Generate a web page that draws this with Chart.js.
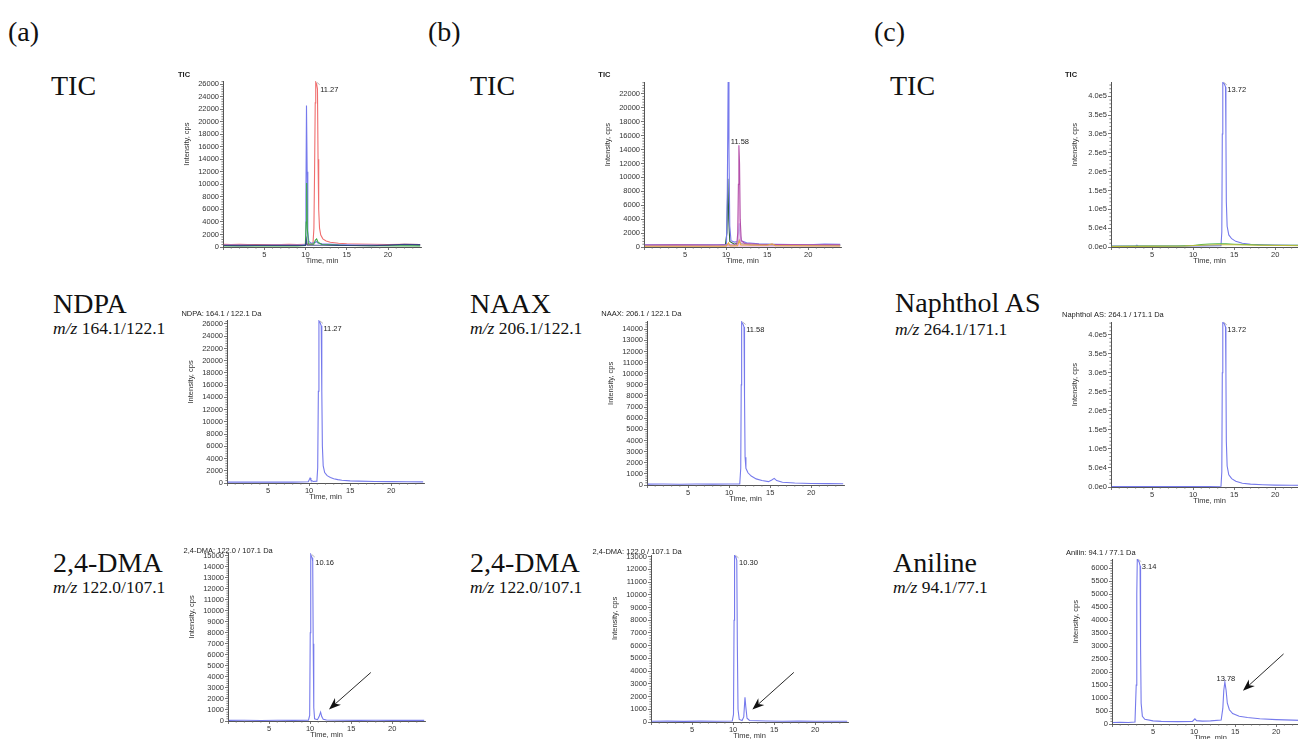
<!DOCTYPE html>
<html>
<head>
<meta charset="utf-8">
<script src="https://cdn.jsdelivr.net/npm/chart.js@4.4.0/dist/chart.umd.min.js"></script>
<style>
html,body{margin:0;padding:0;background:#fff;overflow:hidden;width:1298px;height:739px;}
.lbl{position:absolute;font-family:"Liberation Serif","Times New Roman",serif;color:#111;line-height:1;white-space:nowrap;}
.wrap{position:absolute;}
</style>
</head>
<body>
<script>
// ---------------- DATA ----------------
const xTicksLabels = [5, 10, 15, 20];

// (a) TIC traces
const ticA_red   = [[0.1,420],[1,380],[2,430],[3,400],[4,390],[5,410],[6,380],[7,400],[8,420],[9,400],[10,430],[10.9,450],[11.02,3000],[11.1,12000],[11.18,23000],[11.24,26300],[11.35,26000],[11.45,25200],[11.52,14000],[11.6,6000],[11.7,3000],[11.85,1900],[12.1,1300],[12.5,950],[13,750],[14,600],[15,520],[16,480],[18,430],[20,400],[22,420],[23.9,400]];
const ticA_blue  = [[0.1,300],[2,320],[4,290],[6,310],[8,300],[9.5,320],[9.95,400],[10.05,8000],[10.12,22600],[10.2,12000],[10.28,2500],[10.4,900],[10.7,600],[11.2,700],[11.3,900],[11.5,650],[12,500],[14,380],[16,330],[18,300],[20,280],[22,350],[23.9,330]];
const ticA_green = [[0.1,150],[3,170],[6,160],[9,170],[9.98,250],[10.08,4000],[10.14,10200],[10.22,3000],[10.35,500],[11,450],[11.2,1100],[11.35,1300],[11.55,700],[12,400],[15,250],[18,200],[23.9,180]];
const ticA_navy  = [[0.1,250],[2,220],[4,260],[6,240],[8,230],[10,260],[10.1,1200],[10.2,300],[12,280],[14,250],[16,230],[18,200],[20,300],[22,450],[23.9,380]];

// (b) TIC traces
const ticB_blue    = [[0.1,300],[3,320],[6,300],[9,330],[10.05,400],[10.15,8000],[10.25,23700],[10.35,14000],[10.45,3000],[10.6,900],[11,700],[11.4,800],[11.5,2000],[11.58,3400],[11.68,2000],[11.85,900],[12.5,600],[14,450],[16,400],[18,350],[20,330],[22,420],[23.9,380]];
const ticB_green   = [[0.1,200],[5,220],[9.9,250],[10.1,2000],[10.22,9800],[10.32,4000],[10.45,800],[11,400],[11.5,600],[11.6,1000],[11.8,500],[13,300],[18,250],[23.9,230]];
const ticB_magenta = [[0.1,280],[4,300],[8,290],[11.3,320],[11.42,2000],[11.5,9000],[11.56,14600],[11.64,12000],[11.72,4000],[11.85,900],[12.3,500],[14,380],[16,350],[20,330],[23.9,320]];
const ticB_orange  = [[0.1,100],[10,120],[10.3,600],[10.5,150],[11.4,200],[11.6,900],[11.8,300],[15,250],[15.6,450],[16,200],[23.9,150]];

// (c) TIC traces
const ticC_blue   = [[0.1,2500],[3,2800],[3.15,5000],[3.3,2800],[6,2600],[9,2800],[11,3000],[13.4,3500],[13.5,40000],[13.56,300000],[13.62,437000],[13.8,433000],[13.95,425000],[14.0,300000],[14.05,120000],[14.15,55000],[14.35,32000],[14.7,22000],[15.2,15000],[16,10000],[17,7500],[18.5,6000],[20,5200],[22,4800],[23.9,4500]];
const ticC_green  = [[0.1,2000],[4,2200],[8,2600],[10,4000],[11,6500],[12,8000],[13,8800],[14,8500],[15,7500],[16.5,6500],[18,5500],[20,4800],[23.9,4200]];
const ticC_yellow = [[0.1,1500],[5,1800],[9,2500],[11,4500],[13,6000],[15,6000],[18,4500],[23.9,3500]];

// XIC traces
const ndpa  = [[0.1,150],[1,170],[2,140],[3,160],[4,150],[5,170],[6,140],[7,160],[8,150],[9,170],[9.9,200],[10.05,600],[10.12,800],[10.22,450],[10.5,250],[10.95,300],[11.05,2500],[11.13,15000],[11.2,26500],[11.35,26200],[11.48,25700],[11.55,15000],[11.62,6000],[11.72,2800],[11.9,1700],[12.2,1200],[12.6,900],[13,700],[13.5,550],[14,450],[15,350],[16,300],[18,250],[20,220],[22,200],[23.9,190]];
const naax  = [[0.1,80],[2,90],[4,70],[6,90],[8,80],[10,90],[11.3,100],[11.42,1500],[11.48,9000],[11.53,14650],[11.7,14450],[11.82,14200],[11.88,8000],[11.95,2500],[12.05,1500],[12.3,1100],[12.7,800],[13.3,550],[14,400],[14.8,300],[15.2,450],[15.5,600],[15.8,400],[16.5,250],[18,180],[20,140],[22,120],[23.9,110]];
const naph  = [[0.1,1200],[2,1300],[4,1200],[6,1300],[8,1200],[10,1400],[12,1500],[13.4,1800],[13.5,40000],[13.56,300000],[13.62,432000],[13.8,429000],[13.95,420000],[14.0,300000],[14.05,120000],[14.15,55000],[14.35,32000],[14.7,22000],[15.2,15000],[16,10000],[17,7500],[18.5,6000],[20,5000],[22,4500],[23.9,4200]];
const dmaA  = [[0.1,60],[2,70],[4,50],[6,70],[8,60],[9.8,70],[9.95,500],[10.02,8000],[10.08,15100],[10.25,14800],[10.32,14500],[10.38,7000],[10.45,1200],[10.55,200],[10.9,120],[11.1,400],[11.28,800],[11.42,400],[11.6,150],[12,90],[14,70],[16,60],[18,70],[20,60],[22,55],[23.9,60]];
const dmaB  = [[0.1,60],[2,70],[4,50],[6,70],[8,60],[9.9,80],[10.05,600],[10.12,8000],[10.18,13100],[10.35,12950],[10.45,12700],[10.52,6000],[10.6,1000],[10.75,200],[11.1,120],[11.3,400],[11.45,1950],[11.55,1200],[11.7,300],[12,120],[14,80],[16,60],[18,70],[20,60],[22,55],[23.9,60]];
const anil  = [[0.1,60],[1,70],[2,60],[2.8,80],[2.95,1500],[3.02,5000],[3.08,6350],[3.3,6250],[3.42,6100],[3.48,3000],[3.55,800],[3.7,300],[4,180],[5,120],[6,100],[8,90],[9.8,100],[10.1,200],[10.3,130],[11,110],[12,120],[13.3,150],[13.5,600],[13.62,1300],[13.75,1620],[13.9,1300],[14.05,800],[14.3,550],[14.7,400],[15.5,300],[16.5,250],[18,200],[20,170],[22,150],[23.9,130]];

// Peak labels [time, intensity, text, placement]
const annR1a = [[11.24,26300,'11.27','right']];
const annR1b = [[11.56,14600,'11.58','above']];
const annR1c = [[13.62,437000,'13.72','right']];
const annR2a = [[11.2,26500,'11.27','right']];
const annR2b = [[11.53,14650,'11.58','right']];
const annR2c = [[13.62,432000,'13.72','right']];
const annR3a = [[10.08,15100,'10.16','right']];
const annR3b = [[10.18,13100,'10.30','right']];
const annR3c = [[3.08,6350,'3.14','right'],[13.75,1620,'13.78','above']];

// Arrows [tailTime, tailInt, tipTime, tipInt]
const arrowR3a = [17.4, 4400, 12.3, 1050];
const arrowR3b = [17.4, 3900, 12.35, 980];
const arrowR3c = [20.9, 2700, 15.95, 1280];

// Chart titles
const chartTitles = ['TIC','TIC','TIC','NDPA: 164.1 / 122.1 Da','NAAX: 206.1 / 122.1 Da','Naphthol AS: 264.1 / 171.1 Da','2,4-DMA: 122.0 / 107.1 Da','2,4-DMA: 122.0 / 107.1 Da','Anilin: 94.1 / 77.1 Da'];

// ---------------- LAYOUT ----------------
const BLUE = 'rgb(118,122,236)';
const panels = [
  {L:223,   T:81,    B:246.7, ppm:8.26, yMax:26500,  yStep:2000,  exp:false, tx:178,  ty:75,  bold:true,
   series:[{d:ticA_navy,c:'rgba(40,50,120,0.8)'},{d:ticA_green,c:'rgb(60,170,70)'},{d:ticA_blue,c:BLUE},{d:ticA_red,c:'rgb(240,110,110)'}], ann:annR1a},
  {L:643.7, T:81.7,  B:246.7, ppm:8.2,  yMax:23700,  yStep:2000,  exp:false, tx:598,  ty:75,  bold:true,
   series:[{d:ticB_orange,c:'rgb(230,170,70)'},{d:ticB_magenta,c:'rgb(180,80,170)',f:'rgba(235,180,225,0.7)'},{d:ticB_blue,c:BLUE},{d:ticB_green,c:'rgb(45,100,60)'}], ann:annR1b},
  {L:1111,  T:81.7,  B:246.7, ppm:8.2,  yMax:438000, yStep:50000, exp:true,  tx:1065, ty:75,  bold:true,
   series:[{d:ticC_yellow,c:'rgb(190,190,60)'},{d:ticC_green,c:'rgb(80,180,80)'},{d:ticC_blue,c:BLUE}], ann:annR1c},
  {L:226.6, T:320,   B:483.3, ppm:8.2,  yMax:26650,  yStep:2000,  exp:false, tx:181,  ty:314,
   series:[{d:ndpa,c:BLUE}], ann:annR2a},
  {L:646.7, T:320.7, B:484.3, ppm:8.2,  yMax:14740,  yStep:1000,  exp:false, tx:601,  ty:314,
   series:[{d:naax,c:BLUE}], ann:annR2b},
  {L:1111,  T:321.7, B:486.7, ppm:8.2,  yMax:433000, yStep:50000, exp:true,  tx:1062, ty:315,
   series:[{d:naph,c:BLUE}], ann:annR2c},
  {L:227.5, T:553.3, B:721.7, ppm:8.2,  yMax:15240,  yStep:1000,  exp:false, tx:183,  ty:551,
   series:[{d:dmaA,c:BLUE}], ann:annR3a, arrow:arrowR3a},
  {L:650.5, T:555,   B:721.7, ppm:8.2,  yMax:13130,  yStep:1000,  exp:false, tx:592,  ty:552,
   series:[{d:dmaB,c:BLUE}], ann:annR3b, arrow:arrowR3b},
  {L:1112,  T:559,   B:724,   ppm:8.2,  yMax:6360,   yStep:500,   exp:false, tx:1066, ty:553,
   series:[{d:anil,c:BLUE}], ann:annR3c, arrow:arrowR3c}
];
const X_MAX = 24;
const SANS = '"Liberation Sans", Arial, sans-serif';

// ---------------- LEFT LABELS ----------------
function label(html, x, baseline, size) {
  const d = document.createElement('div');
  d.className = 'lbl';
  d.style.left = x + 'px';
  d.style.top = (baseline - 0.8375 * size) + 'px';
  d.style.fontSize = size + 'px';
  d.innerHTML = html;
  document.body.appendChild(d);
}
label('(a)', 8, 41, 28); label('(b)', 428, 41, 28); label('(c)', 874, 41, 28);
label('TIC', 51, 95, 28); label('TIC', 470, 95, 28); label('TIC', 890, 95, 28);
label('NDPA', 53, 313, 28); label('<i>m/z</i> 164.1/122.1', 53, 335, 17.5);
label('NAAX', 470, 313, 28); label('<i>m/z</i> 206.1/122.1', 470, 335, 17.5);
label('Naphthol AS', 895, 312, 28); label('<i>m/z</i> 264.1/171.1', 895, 336, 17.5);
label('2,4-DMA', 53, 572, 28); label('<i>m/z</i> 122.0/107.1', 53, 594, 17.5);
label('2,4-DMA', 470, 572, 28); label('<i>m/z</i> 122.0/107.1', 470, 594, 17.5);
label('Aniline', 893, 572, 28); label('<i>m/z</i> 94.1/77.1', 893, 594, 17.5);

// ---------------- CHARTS ----------------
const PADL = 62, PADT = 18, PADR = 6, PADB = 24;

function drawDeco(chart, p, idx) {
  const ctx = chart.ctx, xs = chart.scales.x, ys = chart.scales.y, a = chart.chartArea;
  const ox = p.L - PADL, oy = p.T - PADT;
  ctx.save();
  // minor ticks
  ctx.strokeStyle = '#666'; ctx.lineWidth = 0.8;
  ctx.beginPath();
  const ms = p.yStep / 5;
  for (let i = 1; i * ms <= p.yMax; i++) {
    if (i % 5 === 0) continue;
    const y = ys.getPixelForValue(i * ms);
    ctx.moveTo(a.left, y); ctx.lineTo(a.left - 1.6, y);
  }
  for (let t = 1; t < X_MAX; t++) {
    if (t % 5 === 0) continue;
    const x = xs.getPixelForValue(t);
    ctx.moveTo(x, a.bottom); ctx.lineTo(x, a.bottom + 1.6);
  }
  ctx.stroke();
  // chart title
  ctx.fillStyle = '#222';
  ctx.textBaseline = 'middle'; ctx.textAlign = 'left';
  ctx.font = (p.bold ? 'bold ' : '') + '7.5px ' + SANS;
  ctx.fillText(chartTitles[idx], p.tx - ox, p.ty - oy);
  // axis titles
  ctx.font = '7.5px ' + SANS; ctx.fillStyle = '#333';
  ctx.textAlign = 'center';
  ctx.fillText('Time, min', (a.left + a.right) / 2, a.bottom + 14);
  ctx.save();
  ctx.translate(a.left - 36, a.top + 0.38 * (a.bottom - a.top));
  ctx.rotate(-Math.PI / 2);
  ctx.fillText('Intensity, cps', 0, 0);
  ctx.restore();
  // peak annotations
  ctx.font = '7.5px ' + SANS; ctx.fillStyle = '#222';
  p.ann.forEach(an => {
    const x = xs.getPixelForValue(an[0]), y = ys.getPixelForValue(an[1]);
    if (an[3] === 'right') {
      ctx.strokeStyle = '#999'; ctx.lineWidth = 0.7;
      ctx.beginPath(); ctx.moveTo(x + 1, y); ctx.lineTo(x + 4, y + 2.5); ctx.stroke();
      ctx.textAlign = 'left';
      ctx.fillText(an[2], x + 4.5, y + 8);
    } else {
      ctx.textAlign = 'center';
      ctx.fillText(an[2], x + 1, y - 3.5);
    }
  });
  // arrow
  if (p.arrow) {
    const x1 = xs.getPixelForValue(p.arrow[0]), y1 = ys.getPixelForValue(p.arrow[1]);
    const x2 = xs.getPixelForValue(p.arrow[2]), y2 = ys.getPixelForValue(p.arrow[3]);
    const ang = Math.atan2(y2 - y1, x2 - x1);
    const hl = 12, hw = 4.5;
    const bx = x2 - hl * Math.cos(ang), by = y2 - hl * Math.sin(ang);
    const nx = x2 - (hl * 0.7) * Math.cos(ang), ny = y2 - (hl * 0.7) * Math.sin(ang);
    ctx.strokeStyle = '#111'; ctx.lineWidth = 0.9;
    ctx.beginPath(); ctx.moveTo(x1, y1); ctx.lineTo(nx, ny); ctx.stroke();
    ctx.fillStyle = '#111';
    ctx.beginPath();
    ctx.moveTo(x2, y2);
    ctx.lineTo(bx + hw * Math.sin(ang), by - hw * Math.cos(ang));
    ctx.lineTo(nx, ny);
    ctx.lineTo(bx - hw * Math.sin(ang), by + hw * Math.cos(ang));
    ctx.closePath(); ctx.fill();
  }
  ctx.restore();
}

panels.forEach((p, idx) => {
  const R = p.L + X_MAX * p.ppm;
  const cw = Math.round((R - p.L) + PADL + PADR);
  const ch = Math.round((p.B - p.T) + PADT + PADB);
  const wrap = document.createElement('div');
  wrap.className = 'wrap';
  wrap.style.left = (p.L - PADL) + 'px';
  wrap.style.top = (p.T - PADT) + 'px';
  wrap.style.width = cw + 'px';
  wrap.style.height = ch + 'px';
  const c = document.createElement('canvas');
  c.width = cw; c.height = ch;
  c.style.width = cw + 'px'; c.style.height = ch + 'px';
  wrap.appendChild(c);
  document.body.appendChild(wrap);
  const fmt = p.exp ? (v => Number(v).toExponential(1).replace('e+', 'e')) : (v => String(v));
  const yTickVals = [];
  for (let v = 0; v <= p.yMax; v += p.yStep) yTickVals.push(v);
  new Chart(c, {
    type: 'line',
    data: {
      datasets: p.series.map(s => ({
        data: s.d, borderColor: s.c, borderWidth: 1.1, pointRadius: 0, tension: 0,
        fill: s.f ? 'origin' : false, backgroundColor: s.f || 'transparent'
      }))
    },
    options: {
      responsive: false, animation: false, devicePixelRatio: 1,
      layout: { padding: { left: 0, top: PADT, right: PADR, bottom: 0 } },
      plugins: { legend: { display: false }, tooltip: { enabled: false }, title: { display: false } },
      scales: {
        x: {
          type: 'linear', min: 0, max: X_MAX,
          afterFit: s => { s.height = PADB; },
          afterBuildTicks: s => { s.ticks = [{value:0}].concat(xTicksLabels.map(v => ({ value: v }))); },
          ticks: { autoSkip: false, maxRotation: 0,
                   callback: v => (v === 0 ? '' : String(v)),
                   font: { size: 7.5, family: SANS }, color: '#333', padding: 0 },
          grid: { drawOnChartArea: false, drawTicks: true, tickLength: 3, color: '#555', lineWidth: 0.8 },
          border: { display: true, color: '#555', width: 1 }
        },
        y: {
          type: 'linear', min: 0, max: p.yMax,
          afterFit: s => { s.width = PADL; },
          afterBuildTicks: s => { s.ticks = yTickVals.map(v => ({ value: v })); },
          ticks: { autoSkip: false, callback: fmt, font: { size: 7.5, family: SANS }, color: '#333', padding: 1 },
          grid: { drawOnChartArea: false, drawTicks: true, tickLength: 3, color: '#555', lineWidth: 0.8 },
          border: { display: true, color: '#555', width: 1 }
        }
      }
    },
    plugins: [{ id: 'deco' + idx, afterDraw: chart => drawDeco(chart, p, idx) }]
  });
});
</script>
</body>
</html>
